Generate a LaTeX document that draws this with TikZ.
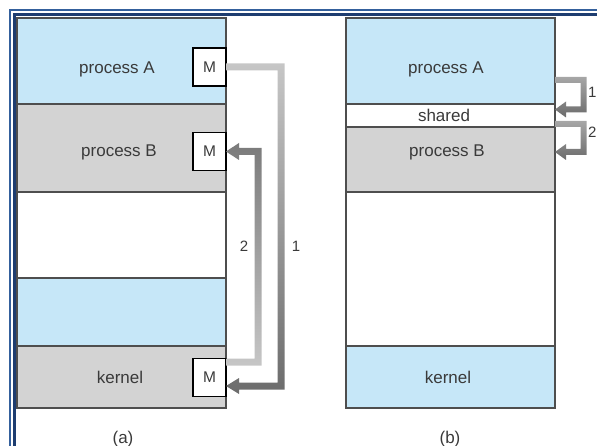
\documentclass[tikz,border=0pt]{standalone}
\usepackage{fontspec}
\setmainfont{Liberation Sans}
\usetikzlibrary{calc}

\definecolor{memblue}{HTML}{C6E7F8}
\definecolor{memgray}{HTML}{D3D3D3}
\definecolor{edgegray}{HTML}{4E4E4E}
\definecolor{inkgray}{HTML}{3A3A3A}
\definecolor{frameouter}{HTML}{34609C}
\definecolor{frameinner}{HTML}{1E3D70}
\definecolor{pipelight}{HTML}{C6C6C6}
\definecolor{pipemid}{HTML}{A6A6A6}
\definecolor{pipedark}{HTML}{6C6C6C}

\begin{document}
\begin{tikzpicture}[x=1pt, y=-1pt,
  region/.style={draw=edgegray, line width=1.3pt, minimum width=209pt,
    inner sep=0pt, outer sep=0pt},
  msgbox/.style={draw=black, line width=1.4pt, fill=white, minimum width=33pt,
    minimum height=38pt, inner sep=0pt, outer sep=0pt, text=inkgray,
    font=\fontsize{15.5}{17}\selectfont},
  lbl/.style={text=inkgray, font=\fontsize{17}{19}\selectfont, inner sep=0pt, anchor=base},
  num/.style={text=inkgray, font=\fontsize{15}{17}\selectfont, inner sep=0pt, anchor=base},
]
\useasboundingbox (0,0) rectangle (597,446);

% double frame along the top and left
\draw[frameouter, line width=2.2pt] (10,470) -- (10,10) -- (620,10);
\draw[frameinner, line width=3.2pt] (14.6,470) -- (14.6,14.6) -- (620,14.6);

% (a) message passing: memory layout
\node[region, fill=memblue, minimum height=86pt] (aA) at (121.5,61) {};
\node[region, fill=memgray, minimum height=88pt] (aB) at (121.5,148) {};
\node[region, fill=white,   minimum height=86pt] (aF) at (121.5,235) {};
\node[region, fill=memblue, minimum height=68pt] (aU) at (121.5,312) {};
\node[region, fill=memgray, minimum height=62pt] (aK) at (121.5,377) {};

\node[lbl] (taA) at (117,74) {process A};
\node[lbl] (taB) at (119,157) {process B};
\node[lbl] (taK) at (120,383) {kernel};

\node[msgbox] (MA) at (209.5,67) {M};
\node[msgbox] (MB) at (209.5,151.5) {M};
\node[msgbox] (MK) at (209.5,377.5) {M};

% (b) shared memory: memory layout
\node[region, fill=memblue, minimum height=86pt]  (bA) at (450.5,61) {};
\node[region, fill=white,   minimum height=23pt]  (bS) at (450.5,115.5) {};
\node[region, fill=memgray, minimum height=65pt]  (bB) at (450.5,159.5) {};
\node[region, fill=white,   minimum height=154pt] (bF) at (450.5,269) {};
\node[region, fill=memblue, minimum height=62pt]  (bK) at (450.5,377) {};

\node[lbl] (tbA) at (446,74) {process A};
\node[lbl] (tbS) at (444,122) {shared};
\node[lbl] (tbB) at (447,157) {process B};
\node[lbl] (tbK) at (448,383) {kernel};

% captions
\node[lbl] (capa) at (123,443) {(a)};
\node[lbl] (capb) at (450,443) {(b)};

% turning points of the pipes
\coordinate (va1) at (281,0);
\coordinate (va2) at (258,0);
\coordinate (vb)  at (583.5,0);

% (a) step 1: process A -> kernel
\shade[top color=pipelight, bottom color=pipedark]
  let \p1=(MA.east), \p2=($(MK.east)+(0,8.5)$), \p3=(va1) in
  (\x1,\y1+3.5pt) -- (\x3+3.5pt,\y1+3.5pt) -- (\x3+3.5pt,\y2-3.5pt)
  -- (\x2+13pt,\y2-3.5pt) -- (\x2+13pt,\y2-8pt) -- (\x2,\y2)
  -- (\x2+13pt,\y2+8pt) -- (\x2+13pt,\y2+3.5pt) -- (\x3-3.5pt,\y2+3.5pt)
  -- (\x3-3.5pt,\y1-3.5pt) -- (\x1,\y1-3.5pt) -- cycle;

% (a) step 2: kernel -> process B
\shade[top color=pipedark!90!white, bottom color=pipelight]
  let \p1=($(MK.east)+(0,-15.5)$), \p2=(MB.east), \p3=(va2) in
  (\x1,\y1-3.5pt) -- (\x3+3.5pt,\y1-3.5pt) -- (\x3+3.5pt,\y2+3.5pt)
  -- (\x2+13pt,\y2+3.5pt) -- (\x2+13pt,\y2+8.5pt) -- (\x2,\y2)
  -- (\x2+13pt,\y2-8.5pt) -- (\x2+13pt,\y2-3.5pt) -- (\x3-3.5pt,\y2-3.5pt)
  -- (\x3-3.5pt,\y1+3.5pt) -- (\x1,\y1+3.5pt) -- cycle;

\node[num] (na2) at (244,252) {2};
\node[num] (na1) at (296,252) {1};

% (b) step 1: process A -> shared
\shade[top color=pipemid, bottom color=pipedark]
  let \p1=($(bA.east)+(0,19)$), \p2=($(bS.east)+(0,-6)$), \p3=(vb) in
  (\x1,\y1+3pt) -- (\x3+3pt,\y1+3pt) -- (\x3+3pt,\y2-3pt)
  -- (\x2+11pt,\y2-3pt) -- (\x2+11pt,\y2-8pt) -- (\x2,\y2)
  -- (\x2+11pt,\y2+8pt) -- (\x2+11pt,\y2+3pt) -- (\x3-3pt,\y2+3pt)
  -- (\x3-3pt,\y1-3pt) -- (\x1,\y1-3pt) -- cycle;

% (b) step 2: shared -> process B
\shade[top color=pipemid, bottom color=pipedark]
  let \p1=($(bS.east)+(0,8.5)$), \p2=($(bB.east)+(0,-7.5)$), \p3=(vb) in
  (\x1,\y1+3pt) -- (\x3+3pt,\y1+3pt) -- (\x3+3pt,\y2-3pt)
  -- (\x2+11pt,\y2-3pt) -- (\x2+11pt,\y2-8pt) -- (\x2,\y2)
  -- (\x2+11pt,\y2+8pt) -- (\x2+11pt,\y2+3pt) -- (\x3-3pt,\y2+3pt)
  -- (\x3-3pt,\y1-3pt) -- (\x1,\y1-3pt) -- cycle;

\node[num, anchor=base west] (nb1) at (588,98) {1};
\node[num, anchor=base west] (nb2) at (588,138) {2};
\end{tikzpicture}
\end{document}
